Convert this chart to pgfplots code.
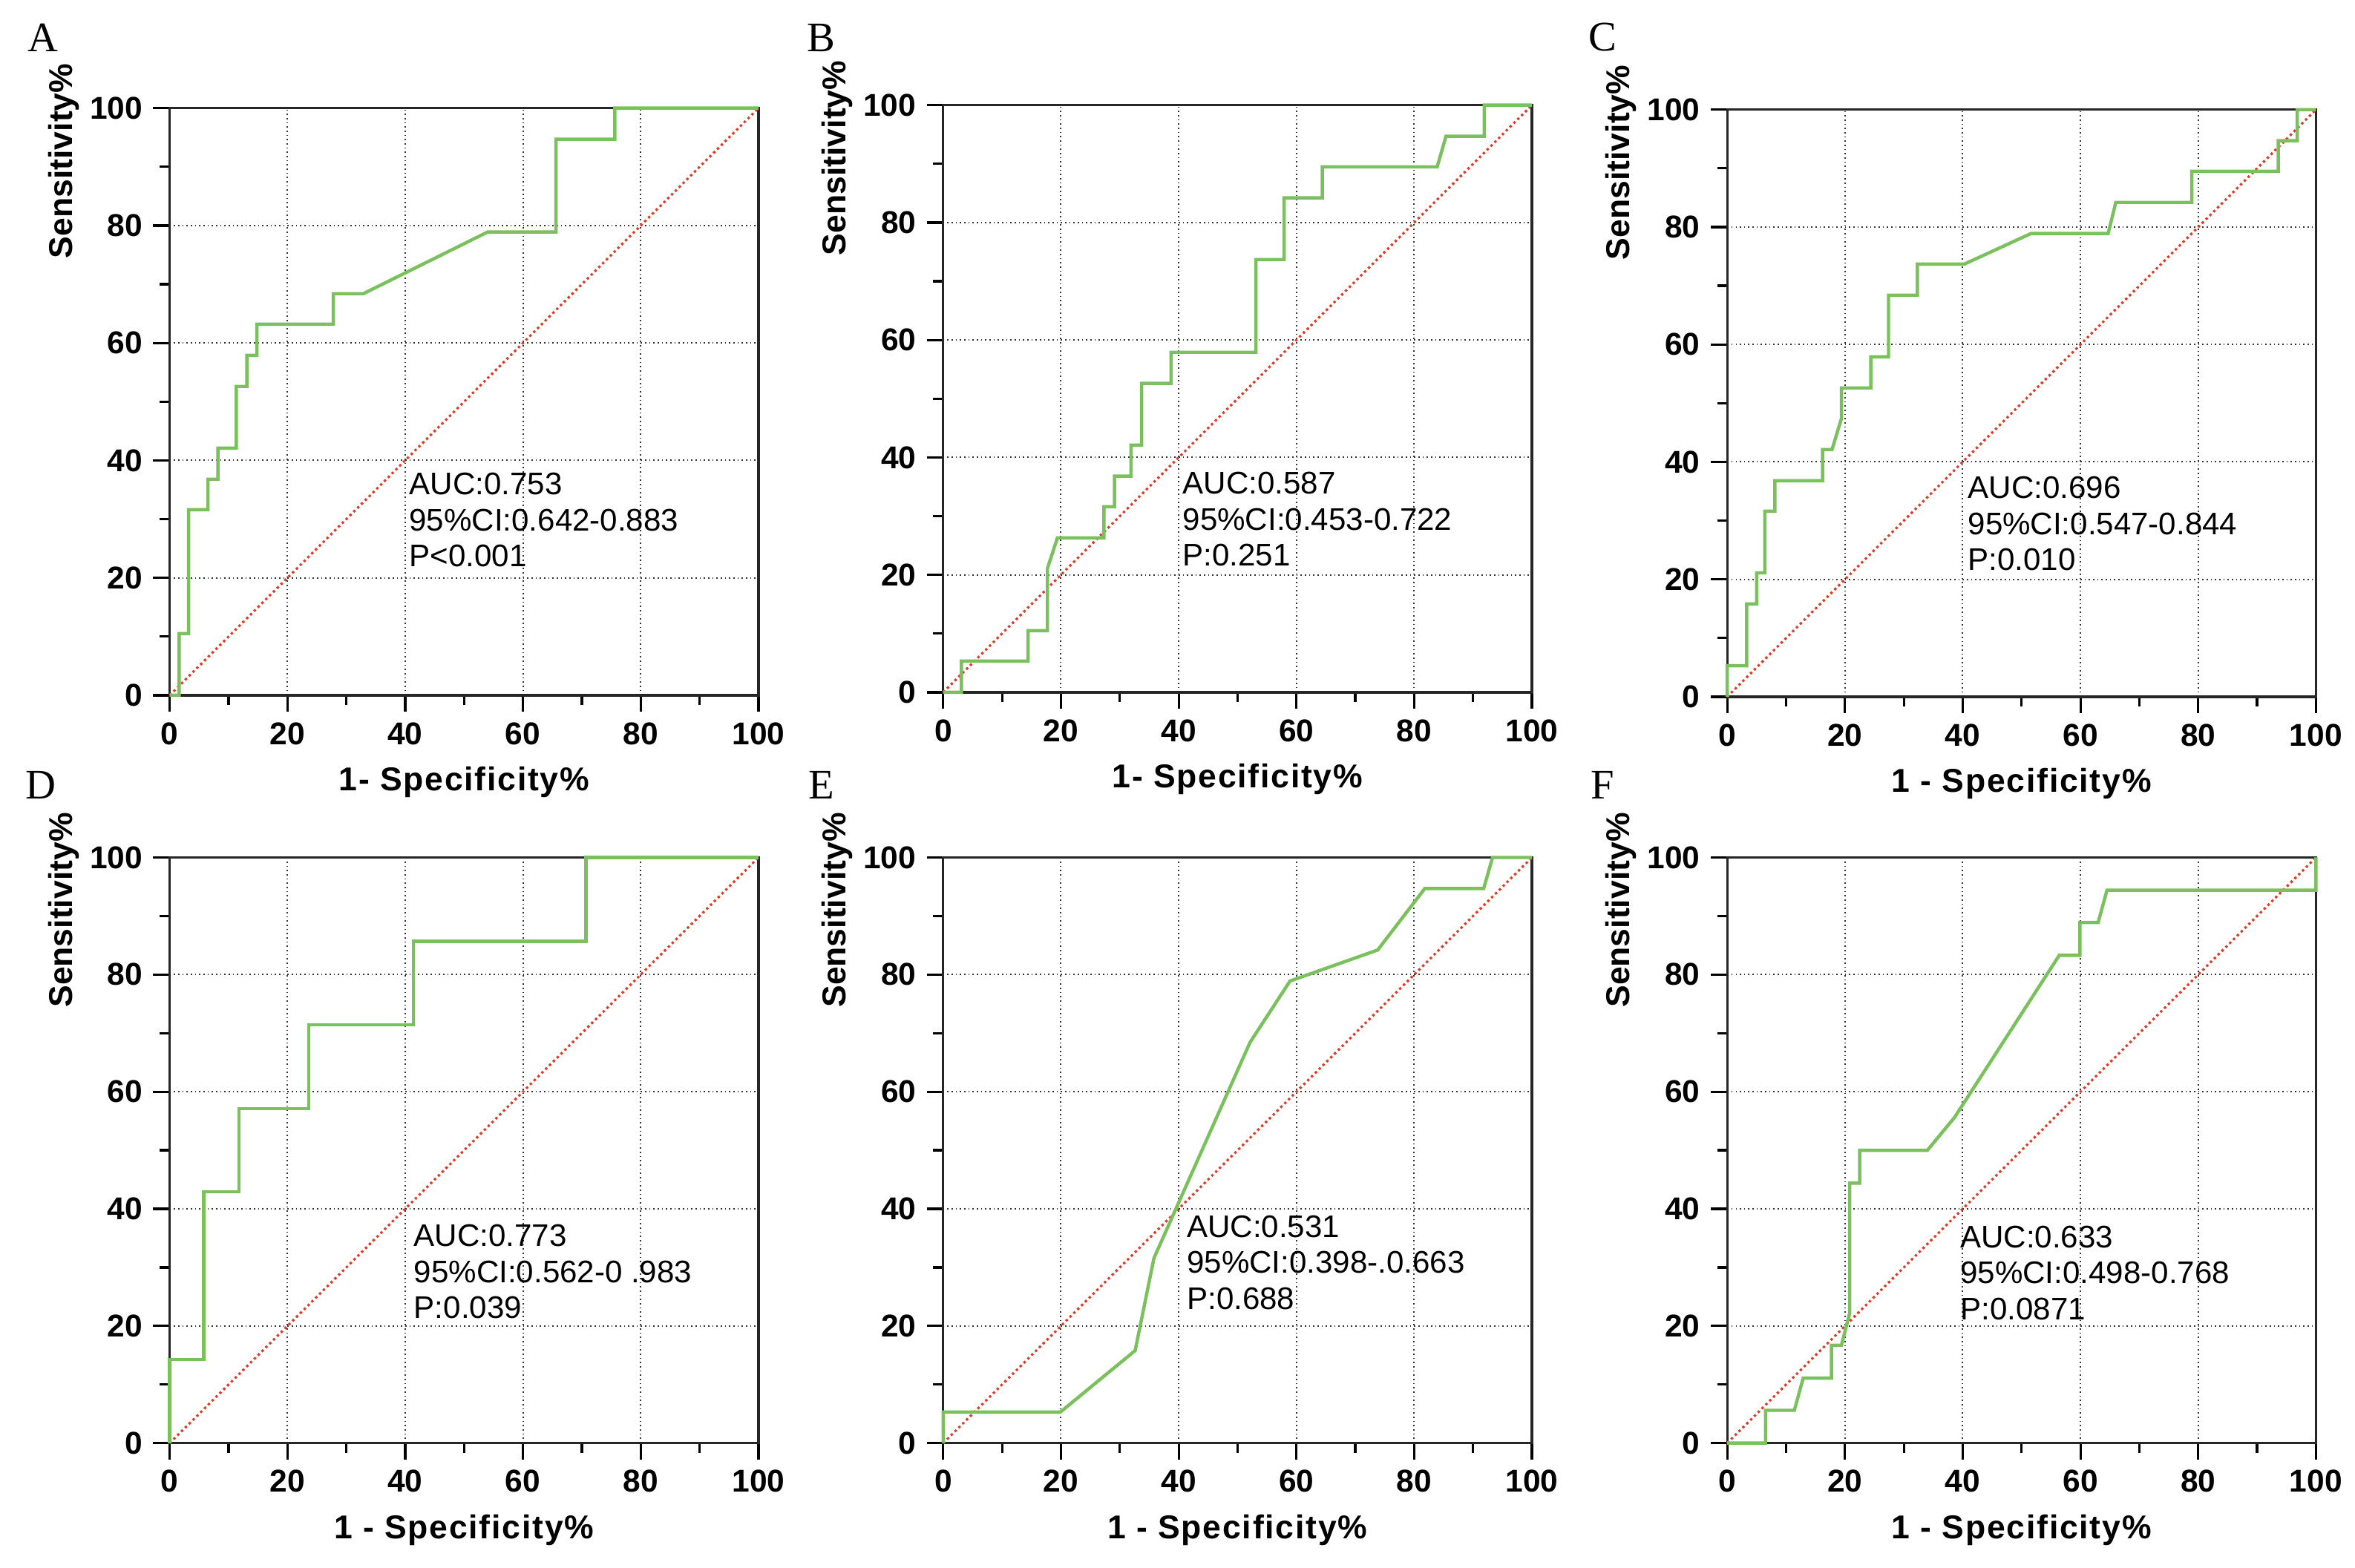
\documentclass[border=0pt]{standalone}
\usepackage{pgfplots}
\pgfplotsset{compat=1.18}
\usepackage{fontspec}
\setmainfont{Liberation Sans}
\newfontfamily\timesfont{Liberation Serif}
\newfontfamily\spacedbold[LetterSpace=4]{Liberation Sans Bold}
\definecolor{rocgreen}{RGB}{122,192,92}
\definecolor{diagred}{RGB}{222,60,40}
\tikzset{
  ann/.style={anchor=north west, align=left, inner sep=0pt, font=\fontsize{10.4}{12}\selectfont},
  letter/.style={font=\timesfont\fontsize{14}{14}\selectfont},
  curve/.style={rocgreen, line width=1.1pt, line join=miter},
  diag/.style={diagred, densely dotted, line width=0.8pt},
}
\pgfplotsset{
  roc/.style={
    anchor=south west,
    scale only axis,
    width=196pt, height=195.5pt,
    xmin=0, xmax=100, ymin=0, ymax=100,
    xtick={0,20,...,100}, ytick={0,20,...,100},
    minor x tick num=1, minor y tick num=1,
    tick pos=left, tick align=outside,
    major tick length=5.5pt, minor tick length=3.3pt,
    every tick/.style={black, line width=0.8pt},
    axis line style={black!85, line width=0.8pt},
    grid=major,
    major grid style={densely dotted, black!80, line width=0.5pt},
    /pgf/number format/assume math mode=true,
    ticklabel style={font=\fontsize{10.5}{12}\selectfont\bfseries},
    xlabel style={font=\spacedbold\fontsize{11}{13}\selectfont, at={(axis description cs:0.5,-0.148)}, anchor=center},
    ylabel style={font=\fontsize{11}{13}\selectfont\bfseries, at={(axis description cs:-0.18,0.91)}, anchor=center},
    ylabel={Sensitivity\%},
    clip=false,
  },
}
\begin{document}
\begin{tikzpicture}
\useasboundingbox (0pt,0pt) rectangle (784pt,-522pt);
% A
\begin{axis}[roc, at={(56.5pt,-231.5pt)}, xlabel={1- Specificity\%}]
\addplot[diag] coordinates {(0,0)(100,100)};
\addplot[curve] coordinates {(0,0)(1.6,0)(1.6,10.5)(3.2,10.5)(3.2,31.6)(6.5,31.6)(6.5,36.8)(8.2,36.8)(8.2,42.1)(11.3,42.1)(11.3,52.6)(13.1,52.6)(13.1,57.9)(14.8,57.9)(14.8,63.2)(27.8,63.2)(27.8,68.4)(32.9,68.4)(54,78.9)(65.6,78.9)(65.6,94.7)(75.6,94.7)(75.6,100)(100,100)};
\node[ann] at (axis cs:40.6,38) {AUC:0.753\\95\%CI:0.642-0.883\\P<0.001};
\node[letter] at (axis description cs:-0.215,1.12) {A};
\end{axis}
% B
\begin{axis}[roc, at={(314pt,-230.5pt)}, xlabel={1- Specificity\%}]
\addplot[diag] coordinates {(0,0)(100,100)};
\addplot[curve] coordinates {(0,0)(3.1,0)(3.1,5.3)(14.4,5.3)(14.4,10.5)(17.7,10.5)(17.7,21.1)(19.4,26.3)(27.3,26.3)(27.3,31.6)(29.1,31.6)(29.1,36.8)(31.9,36.8)(31.9,42.1)(33.7,42.1)(33.7,52.6)(38.7,52.6)(38.7,57.9)(53.1,57.9)(53.1,73.7)(57.9,73.7)(57.9,84.2)(64.4,84.2)(64.4,89.5)(83.9,89.5)(85.4,94.7)(91.9,94.7)(91.9,100)(100,100)};
\node[ann] at (axis cs:40.6,37.6) {AUC:0.587\\95\%CI:0.453-0.722\\P:0.251};
\node[letter] at (axis description cs:-0.207,1.115) {B};
\end{axis}
% C
\begin{axis}[roc, at={(575pt,-232pt)}, xlabel={1 - Specificity\%}]
\addplot[diag] coordinates {(0,0)(100,100)};
\addplot[curve] coordinates {(0,0)(0,5.3)(3.3,5.3)(3.3,15.8)(5.0,15.8)(5.0,21.1)(6.4,21.1)(6.4,31.6)(8.1,31.6)(8.1,36.8)(16.2,36.8)(16.2,42.1)(17.8,42.1)(19.4,47.4)(19.4,52.6)(24.4,52.6)(24.4,57.9)(27.4,57.9)(27.4,68.4)(32.3,68.4)(32.3,73.7)(40.3,73.7)(51.6,78.9)(64.7,78.9)(66.0,84.2)(78.9,84.2)(78.9,89.5)(93.6,89.5)(93.6,94.7)(96.8,94.7)(96.8,100)(100,100)};
\node[ann] at (axis cs:40.8,37.6) {AUC:0.696\\95\%CI:0.547-0.844\\P:0.010};
\node[letter] at (axis description cs:-0.212,1.123) {C};
\end{axis}
% D
\begin{axis}[roc, at={(56.5pt,-480.5pt)}, height=195pt, xlabel={1 - Specificity\%}]
\addplot[diag] coordinates {(0,0)(100,100)};
\addplot[curve] coordinates {(0,0)(0,14.3)(5.8,14.3)(5.8,42.9)(11.8,42.9)(11.8,57.1)(23.6,57.1)(23.6,71.4)(41.4,71.4)(41.4,85.7)(70.7,85.7)(70.7,100)(100,100)};
\node[ann] at (axis cs:41.4,37.4) {AUC:0.773\\95\%CI:0.562-0 .983\\P:0.039};
\node[letter] at (axis description cs:-0.219,1.123) {D};
\end{axis}
% E
\begin{axis}[roc, at={(314pt,-480.5pt)}, height=195pt, xlabel={1 - Specificity\%}]
\addplot[diag] coordinates {(0,0)(100,100)};
\addplot[curve] coordinates {(0,0)(0,5.3)(19.9,5.3)(32.6,15.8)(35.8,31.6)(52.1,68.4)(58.9,78.9)(73.8,84.2)(81.8,94.7)(91.8,94.7)(93.3,100)(100,100)};
\node[ann] at (axis cs:41.3,39) {AUC:0.531\\95\%CI:0.398-.0.663\\P:0.688};
\node[letter] at (axis description cs:-0.207,1.123) {E};
\end{axis}
% F
\begin{axis}[roc, at={(575pt,-480.5pt)}, height=195pt, xlabel={1 - Specificity\%}]
\addplot[diag] coordinates {(0,0)(100,100)};
\addplot[curve] coordinates {(0,0)(6.5,0)(6.5,5.6)(11.4,5.6)(12.9,11.1)(17.7,11.1)(17.7,16.7)(19.4,16.7)(20.8,22.2)(20.8,44.4)(22.5,44.4)(22.5,50)(34.0,50)(38.6,55.6)(56.4,83.3)(59.9,83.3)(59.9,88.9)(63.0,88.9)(64.5,94.4)(100,94.4)(100,100)};
\node[ann] at (axis cs:39.5,37.2) {AUC:0.633\\95\%CI:0.498-0.768\\P:0.0871};
\node[letter] at (axis description cs:-0.212,1.123) {F};
\end{axis}
\end{tikzpicture}
\end{document}
